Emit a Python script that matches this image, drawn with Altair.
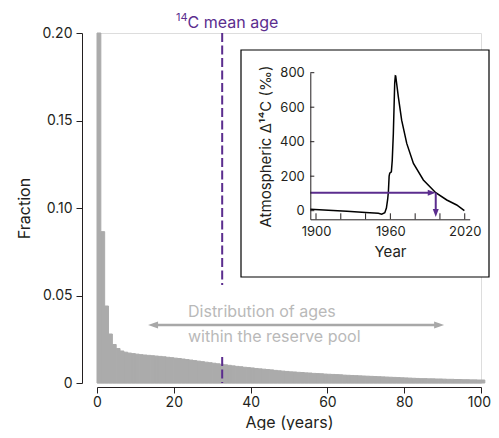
import altair as alt
import pandas as pd

# ---------------- data ----------------
ages = list(range(101))
fractions = [
    0.2000, 0.0865, 0.0440, 0.0280, 0.0220, 0.0197, 0.0183, 0.0176, 0.0171, 0.0168,
    0.0165, 0.0162, 0.0160, 0.0158, 0.0156, 0.0154, 0.0152, 0.0150, 0.0147, 0.0145,
    0.0142, 0.0140, 0.0137, 0.0134, 0.0131, 0.0128, 0.0125, 0.0122, 0.0119, 0.0116,
    0.0113, 0.0110, 0.0107, 0.0104, 0.0101, 0.0098, 0.0095, 0.0093, 0.0090, 0.0088,
    0.0086, 0.0083, 0.0081, 0.0079, 0.0077, 0.0075, 0.0072, 0.0070, 0.0068, 0.0066,
    0.0064, 0.0063, 0.0061, 0.0060, 0.0058, 0.0057, 0.0055, 0.0054, 0.0053, 0.0051,
    0.0050, 0.0049, 0.0048, 0.0047, 0.0045, 0.0044, 0.0043, 0.0042, 0.0041, 0.0040,
    0.0039, 0.0038, 0.0037, 0.0036, 0.0035, 0.0034, 0.0033, 0.0032, 0.0031, 0.0030,
    0.0029, 0.0028, 0.0027, 0.0026, 0.0025, 0.0025, 0.0024, 0.0024, 0.0023, 0.0023,
    0.0022, 0.0021, 0.0021, 0.0020, 0.0020, 0.0019, 0.0019, 0.0018, 0.0018, 0.0017,
    0.0017,
]
main_x_ticks = [0, 20, 40, 60, 80, 100]
main_y_ticks = [0, 0.05, 0.10, 0.15, 0.20]
mean_age = 32.6
dashed_segments_top = [0.20, 0.0149]
dashed_segments_bottom = [0.056, 0.0]
dist_arrow_start, dist_arrow_end, dist_arrow_level = 13.3, 90.4, 0.0331
dist_text = ["Distribution of ages", "within the reserve pool"]

years = [1895.4, 1910, 1925, 1940, 1950.3, 1953.0, 1955.5, 1956.8, 1957.8, 1958.4,
         1959.0, 1959.5, 1960.8, 1961.5, 1962.4, 1963.5, 1964.0, 1964.3, 1966.4,
         1969.1, 1973.2, 1978.6, 1986.6, 1996.6, 2005.5, 2013.5, 2019.7]
delta14c = [8, 2, -4, -10, -15, -20, -12, 15, 65, 110,
            200, 218, 225, 290, 448, 740, 782, 781, 661,
            525, 390, 274, 178, 104, 62, 33, 0]
inset_x_ticks = [1900, 1920, 1940, 1960, 1980, 2000, 2020]
inset_x_labels = [1900, 1960, 2020]
inset_y_ticks = [0, 200, 400, 600, 800]
inset_x_domain = [1895.4, 2024]
inset_y_domain = [-50, 800]
read_value, read_year, read_bottom = 104, 1996.6, -37

# ---------------- style ----------------
FONT = "Inter"
PURPLE = "#5b2d8e"
BAR = "#ababab"
ARROW_GRAY = "#a8a8a8"
TEXT_GRAY = "#b9b9b9"
INK = "#231f20"

W, H = 384, 350

bars_df = pd.DataFrame({"age": ages, "fraction": fractions})
one = pd.DataFrame({"k": [0]})

x_main = alt.X(
    "age:Q",
    scale=alt.Scale(domain=[0, 100], nice=False, zero=False),
    axis=alt.Axis(values=main_x_ticks, offset=4, tickSize=6, labelPadding=2,
                  labelFontSize=14, labelFont=FONT, labelColor=INK,
                  labelOffset={"condition": {"test": "datum.value == 100", "value": -2}, "value": 0},
                  domainColor=INK, tickColor=INK, grid=False,
                  title="Age (years)", titleFontSize=16, titleFont=FONT,
                  titleFontWeight="normal", titleColor=INK, titlePadding=5,
                  labelFlush=False),
)
y_main = alt.Y(
    "fraction:Q",
    scale=alt.Scale(domain=[0, 0.2], nice=False),
    axis=alt.Axis(values=main_y_ticks, offset=15, tickSize=6, labelPadding=4,
                  labelExpr="datum.value == 0 ? '0' : format(datum.value, '.2f')",
                  labelFontSize=14, labelFont=FONT, labelColor=INK,
                  domainColor=INK, tickColor=INK, grid=False,
                  title="Fraction", titleFontSize=16, titleFont=FONT,
                  titleFontWeight="normal", titleColor=INK, titlePadding=10),
)

bars = alt.Chart(bars_df).transform_calculate(
    age_end="datum.age + 1"
).mark_rect(color=BAR, stroke=BAR, strokeWidth=1).encode(
    x=x_main, x2="age_end:Q", y=y_main, y2=alt.datum(0)
)

dash_df = pd.DataFrame({"top": dashed_segments_top, "bot": dashed_segments_bottom})
dashed = alt.Chart(dash_df).mark_rule(color=PURPLE, strokeWidth=2, strokeDash=[9, 3.5]).encode(
    x=alt.datum(mean_age), y="top:Q", y2="bot:Q"
)

label14 = alt.Chart(one).mark_text(
    text="14", font=FONT, fontSize=11, color=PURPLE, align="right", baseline="alphabetic"
).encode(x=alt.datum(23.6), y=alt.value(-12))
label_c = alt.Chart(one).mark_text(
    text="C mean age", font=FONT, fontSize=16, color=PURPLE, align="left", baseline="alphabetic"
).encode(x=alt.datum(23.6), y=alt.value(-5.3))

dist_line = alt.Chart(one).mark_rule(color=ARROW_GRAY, strokeWidth=2.5, xOffset=5, x2Offset=-5).encode(
    x=alt.datum(dist_arrow_start), x2=alt.datum(dist_arrow_end), y=alt.datum(dist_arrow_level)
)
head_left = alt.Chart(one).mark_point(
    shape="M0,0 L2,-0.7 L2,0.7 Z", size=100, filled=True, color=ARROW_GRAY, opacity=1, strokeWidth=0
).encode(x=alt.datum(dist_arrow_start), y=alt.datum(dist_arrow_level))
head_right = alt.Chart(one).mark_point(
    shape="M0,0 L-2,-0.7 L-2,0.7 Z", size=100, filled=True, color=ARROW_GRAY, opacity=1, strokeWidth=0
).encode(x=alt.datum(dist_arrow_end), y=alt.datum(dist_arrow_level))
dist_label = alt.Chart(one).mark_text(
    text=dist_text, font=FONT, fontSize=16, color=TEXT_GRAY, align="left",
    baseline="alphabetic", lineHeight=24.4
).encode(x=alt.datum(23.7), y=alt.datum(0.0375))

main = alt.layer(bars, dashed, dist_line, head_left, head_right, dist_label, label14, label_c)

# ---------------- inset ----------------
inset_df = pd.DataFrame({"year": years, "d14c": delta14c})

x_in = alt.X(
    "year:Q",
    scale=alt.Scale(domain=inset_x_domain, range=[213.3, 372.7], nice=False, zero=False),
    axis=alt.Axis(orient="bottom", offset=-163.7, values=inset_x_labels, format="d",
                  ticks=False, tickSize=0, labelPadding=6, labelFontSize=13,
                  labelFont=FONT, labelColor=INK, domainColor=INK, grid=False,
                  title="Year", titleFontSize=15, titleFont=FONT,
                  titleFontWeight="normal", titleColor=INK, titlePadding=6,
                  zindex=2),
)
y_in = alt.Y(
    "d14c:Q",
    scale=alt.Scale(domain=inset_y_domain, range=[186.3, 39.7], nice=False, zero=False),
    axis=alt.Axis(orient="left", offset=-213.3, values=inset_y_ticks, format="d",
                  ticks=False, tickSize=0, labelPadding=6, labelFontSize=13,
                  labelFont=FONT, labelColor=INK, domainColor=INK, grid=False,
                  title="Atmospheric Δ¹⁴C (‰)", titleFontSize=15, titleFont=FONT,
                  titleFontWeight="normal", titleColor=INK, titlePadding=6,
                  zindex=2),
)

box = alt.Chart(one).mark_rect(fill="white", stroke="black", strokeWidth=1.2).encode(
    x=alt.value(144), x2=alt.value(392), y=alt.value(17), y2=alt.value(244)
)
curve = alt.Chart(inset_df).mark_line(color="black", strokeWidth=1.5).encode(x=x_in, y=y_in)

xt_df = pd.DataFrame({"year": inset_x_ticks})
x_ticks = alt.Chart(xt_df).mark_rule(color=INK, strokeWidth=1, y2Offset=-6).encode(
    x="year:Q", y=alt.datum(inset_y_domain[0]), y2=alt.datum(inset_y_domain[0])
)
yt_df = pd.DataFrame({"d14c": inset_y_ticks})
y_ticks = alt.Chart(yt_df).mark_rule(color=INK, strokeWidth=1, x2Offset=4).encode(
    y="d14c:Q", x=alt.datum(inset_x_domain[0]), x2=alt.datum(inset_x_domain[0])
)

h_arrow = alt.Chart(one).mark_rule(color=PURPLE, strokeWidth=2, x2Offset=-5).encode(
    x=alt.datum(inset_x_domain[0]), x2=alt.datum(read_year), y=alt.datum(read_value)
)
h_head = alt.Chart(one).mark_point(
    shape="M0,0 L-2,-0.75 L-2,0.75 Z", size=64, filled=True, color=PURPLE, opacity=1, strokeWidth=0
).encode(x=alt.datum(read_year), y=alt.datum(read_value))
v_arrow = alt.Chart(one).mark_rule(color=PURPLE, strokeWidth=2, y2Offset=-5).encode(
    x=alt.datum(read_year), y=alt.datum(read_value), y2=alt.datum(read_bottom)
)
v_head = alt.Chart(one).mark_point(
    shape="M0,0 L-0.75,-2 L0.75,-2 Z", size=64, filled=True, color=PURPLE, opacity=1, strokeWidth=0
).encode(x=alt.datum(read_year), y=alt.datum(read_bottom))

inset = alt.layer(box, curve, x_ticks, y_ticks, h_arrow, h_head, v_arrow, v_head)

chart = alt.layer(main, inset).resolve_scale(x="independent", y="independent").properties(
    width=W, height=H,
    autosize=alt.AutoSizeParams(type="none"),
    padding={"left": 89, "top": 25, "right": 10, "bottom": 47},
).configure_view(stroke=None).configure(background="white")

chart.save("out.html", embed_options={"renderer": "svg", "actions": False})
